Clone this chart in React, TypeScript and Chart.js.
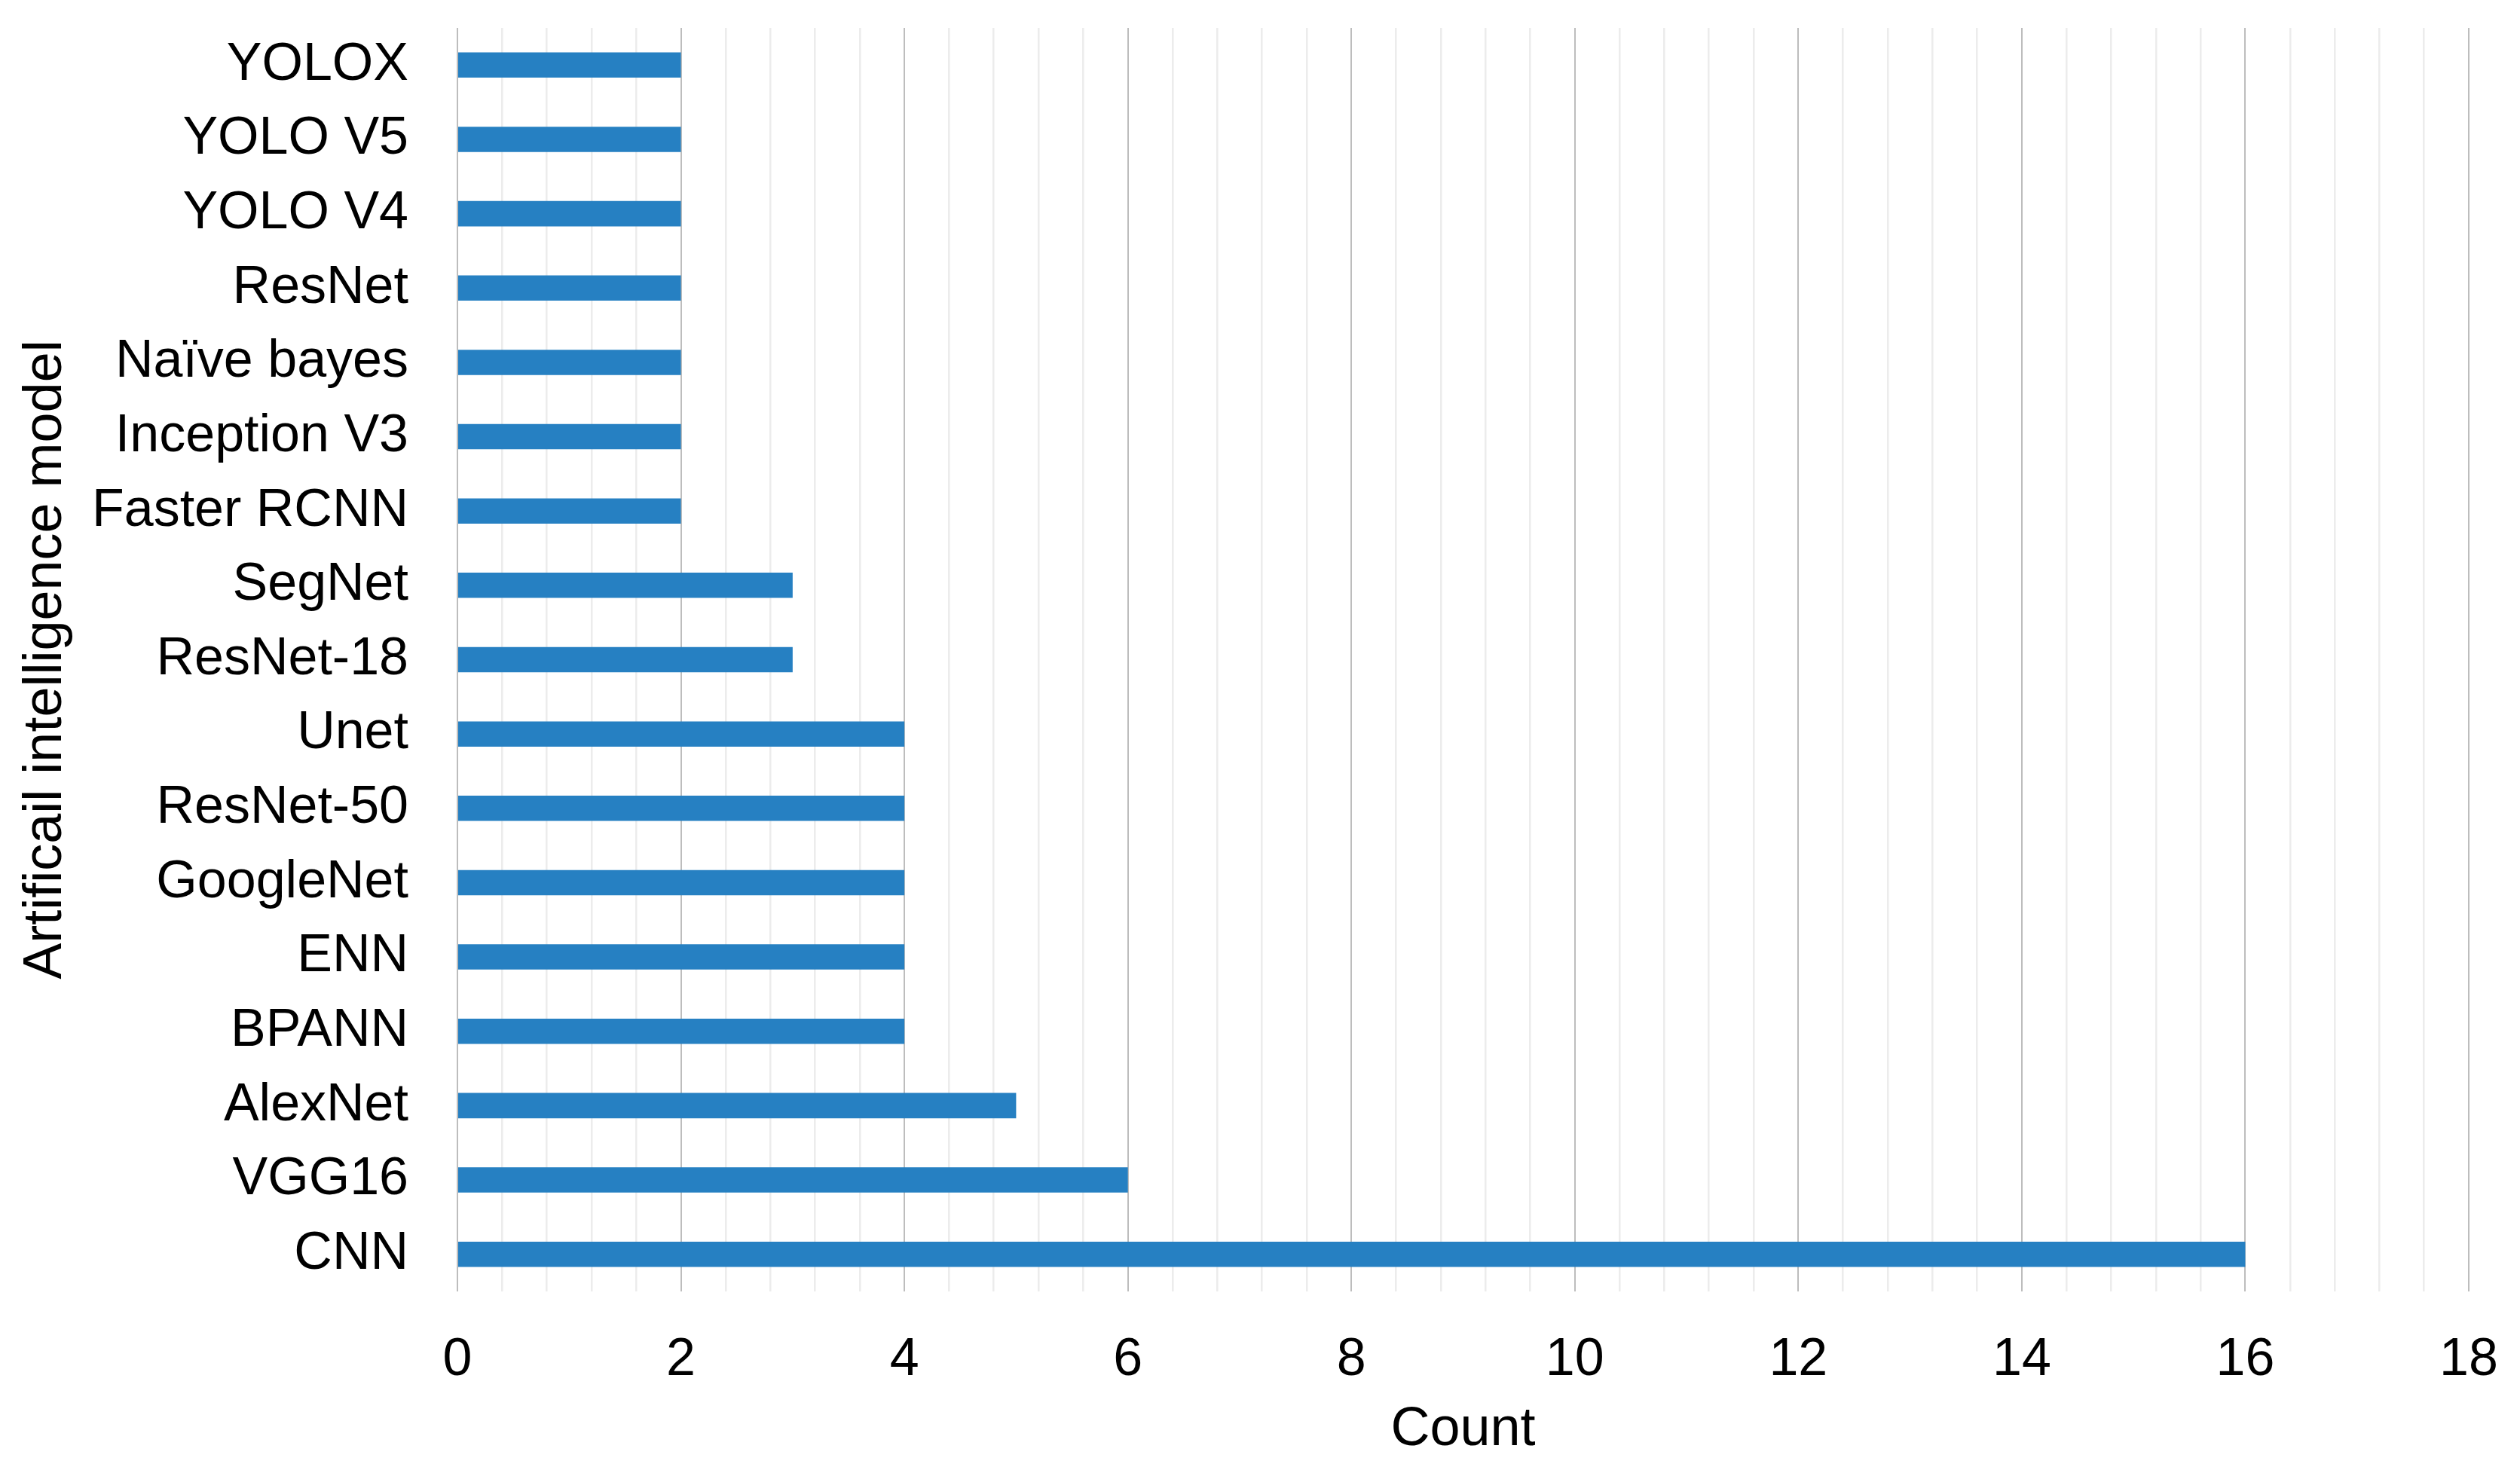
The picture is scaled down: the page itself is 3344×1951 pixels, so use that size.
import React, { useEffect, useRef } from "react";
import { Chart, registerables } from "chart.js";

Chart.register(...registerables);

const categories: string[] = [
  "YOLOX",
  "YOLO V5",
  "YOLO V4",
  "ResNet",
  "Naïve bayes",
  "Inception V3",
  "Faster RCNN",
  "SegNet",
  "ResNet-18",
  "Unet",
  "ResNet-50",
  "GoogleNet",
  "ENN",
  "BPANN",
  "AlexNet",
  "VGG16",
  "CNN",
];

const counts: number[] = [2, 2, 2, 2, 2, 2, 2, 3, 3, 4, 4, 4, 4, 4, 5, 6, 16];

const xMin = 0;
const xMax = 18;
const majorStep = 2;
const minorStep = 0.4;

const xTitle = "Count";
const yTitle = "Artificail intelligence model";

const W = 3344;
const H = 1951;
const FONT = "'Liberation Sans', Arial, sans-serif";

function isMajor(v: number): boolean {
  const r = v / majorStep;
  return Math.abs(r - Math.round(r)) < 1e-6;
}

export default function App() {
  const ref = useRef<HTMLCanvasElement | null>(null);

  useEffect(() => {
    document.body.style.margin = "0";
    document.body.style.overflow = "hidden";
    const canvas = ref.current;
    if (!canvas) return;
    const chart = new Chart(canvas, {
      type: "bar",
      data: {
        labels: categories,
        datasets: [
          {
            label: xTitle,
            data: counts,
            backgroundColor: "#2680c2",
            borderWidth: 0,
            barPercentage: 0.34,
            categoryPercentage: 1,
          },
        ],
      },
      options: {
        indexAxis: "y",
        responsive: false,
        animation: false,
        devicePixelRatio: 1,
        layout: { padding: { left: 0, top: 37, right: 68, bottom: 0 } },
        plugins: {
          legend: { display: false },
          tooltip: { enabled: false },
          title: { display: false },
        },
        scales: {
          x: {
            type: "linear",
            min: xMin,
            max: xMax,
            afterFit: (scale: any) => {
              scale.height = H - 1714;
              scale.paddingLeft = 0;
              scale.paddingRight = 0;
            },
            ticks: {
              stepSize: minorStep,
              autoSkip: false,
              maxRotation: 0,
              padding: 50,
              color: "#000000",
              font: { family: FONT, size: 70 },
              callback: (v: any) => (isMajor(Number(v)) ? String(Math.round(Number(v))) : ""),
            },
            grid: {
              drawTicks: false,
              lineWidth: (ctx: any) => (ctx.tick && isMajor(ctx.tick.value) ? 2 : 2.5),
              color: (ctx: any) =>
                ctx.tick && isMajor(ctx.tick.value) ? "#bdbdbd" : "#ececec",
            },
            border: { display: false },
            title: {
              display: true,
              text: xTitle,
              color: "#000000",
              font: { family: FONT, size: 72 },
              padding: { top: 0, bottom: 10 },
            },
          },
          y: {
            type: "category",
            afterFit: (scale: any) => {
              scale.width = 607;
              scale.paddingTop = 0;
              scale.paddingBottom = 0;
            },
            ticks: {
              padding: 65,
              color: "#000000",
              autoSkip: false,
              font: { family: FONT, size: 70 },
            },
            grid: { display: false, drawTicks: false },
            border: { display: false },
            title: {
              display: true,
              text: yTitle,
              color: "#000000",
              font: { family: FONT, size: 72 },
              padding: { top: 18, bottom: 0 },
            },
          },
        },
      },
    } as any);
    return () => chart.destroy();
  }, []);

  return (
    <div style={{ width: W, height: H, background: "#ffffff" }}>
      <canvas ref={ref} width={W} height={H} style={{ display: "block", width: W, height: H }} />
    </div>
  );
}
